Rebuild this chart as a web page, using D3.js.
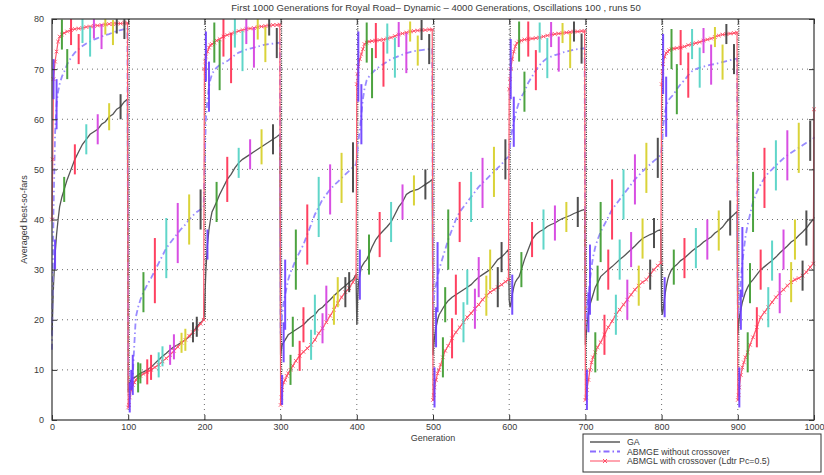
<!DOCTYPE html>
<html>
<head>
<meta charset="utf-8">
<script src="https://cdn.jsdelivr.net/npm/d3@7/dist/d3.min.js"></script>
<style>
  body { margin: 0; background: #fff; }
  svg { display: block; font-family: "Liberation Sans", Arial, sans-serif; }
</style>
</head>
<body>
<svg id="chart" width="824" height="475"></svg>
<script>
// Generation offsets (within each 100-generation oscillation period) at which values are recorded
const offsets = [0,1,2,4,6,8,10,13,16,20,25,30,35,40,45,50,55,60,65,70,75,80,85,90,95,99];
const periodLength = 100;

// GA — averaged best-so-far, one row per period
const gaValues = [
  [17,22,27,33,37,40,42.5,44.5,46,48,50,52,53.5,55,56,57,57.5,58,59,59.5,60.5,61,62,62.5,63.5,64],
  [5.5,6.5,7.5,8,8.3,8.5,8.6,9,9.3,9.6,10,10.5,11.3,12,12.7,13.3,14,14.6,15,15.5,16,16.6,17.5,18.6,19.4,20],
  [21,26,30,35,38,40,41.5,42.5,43.5,45,46.5,48,49,50.3,51.3,52,52.5,53,53.5,54,54.5,55,55.5,56,56.5,57],
  [13,14,15,15.5,16,16.5,17,17.3,17.6,18,18.5,19,19.8,20.5,21,22,22.5,23.3,24,24.8,25.5,26.2,26.8,27.5,28,29],
  [19,24,27,29,30.5,31,31.5,32,33,34.5,36,37,37.8,38.6,39.5,41,42.5,43.5,45,45.5,45.8,46,46.5,47,47.5,48],
  [13,15,16.5,18.5,20,21,21.5,22.3,23,23.8,24.5,25,25.5,26,26.5,27,27.8,28.5,29,29.5,30,31,32,32.5,33.3,34],
  [24,22.5,23,25,26.5,27.5,28,28.6,30,32,34,36,37,37.6,38,38.6,39,39.3,39.8,40.2,40.5,40.8,41.2,41.5,41.8,42],
  [15,17,19,21.5,23,24,25,26.5,27.3,28.6,29.3,30,30.6,31.3,32,32.6,33.3,34,34.7,35.5,36.2,36.6,37,37.3,37.8,38],
  [22,21,22,24.5,26.5,28,29,30,30.5,31,31.8,32.3,33,33.7,34.3,34.8,35.5,36,36.5,37.3,37.8,38.5,39.5,40.3,41,41.6],
  [17,19,20.5,22,23.5,24.5,25.5,26.5,27.3,28,29,30,30.6,31.2,31.8,32.5,33.3,34,34.7,35.5,36,36.8,37.5,38.3,39.3,40]
];

// ABMGE without crossover
const abmgeValues = [
  [14,28,42,57,63,65.5,67,68.5,69.5,71,72.3,73.3,74,74.6,75.1,75.5,75.9,76.2,76.5,76.8,77,77.3,77.6,77.8,78,78.2],
  [11,8,6.5,6,9,15,20.5,22.5,24,25.5,27,28.3,29.8,31.3,32.8,34.3,35.3,36.3,37.3,38.2,39,40,40.8,41.5,42,42.5],
  [48,55,60,64,66.5,68,69,69.8,70.3,70.8,71.2,71.6,72.2,72.8,73.3,73.6,73.9,74.1,74.3,74.5,74.7,74.9,75,75.1,75.2,75.3],
  [17,19,21,23.5,25,26.5,28,29.5,30.5,32,33.5,35,37,39,41,42.5,44,45,46,46.8,47.5,48.3,49,49.7,50.4,51],
  [52,54,55.5,58,61,64,66,67.8,68.5,69.2,70,70.5,71,71.5,72,72.3,72.6,72.9,73.2,73.4,73.6,73.7,73.8,73.9,74,74.1],
  [22,24,25.5,27,28.5,30,31,32.5,34,36,38,40,41.5,42.5,43.5,44.5,45.5,46.5,47.3,48,48.8,49.5,50.3,51,52,52.5],
  [53,54.5,56,58,59.5,60.8,62,63.5,64.5,65.5,67.3,68.5,69.8,70.8,71.6,72.2,72.5,72.8,73,73.3,73.5,73.7,73.9,74,74.1,74.2],
  [18,20,22,25,28,30.5,32.5,34.5,36,37.5,39,40.5,42,43,44,45,46,47,48,48.8,49.6,50.3,51,51.7,52.3,52.9],
  [54,56,58.5,61,62.5,63.5,64,64.5,65,66,67,67.8,68.8,69.6,70,70.3,70.5,70.7,70.9,71,71.2,71.4,71.6,71.8,72,72.1],
  [20,22,24,28,31.5,34,36.5,39,41,43.5,45.5,47,48.3,49.3,50,50.8,51.5,52.2,52.8,53.3,53.8,54.3,54.8,55.3,55.7,56]
];

// ABMGL with crossover
const abmglValues = [
  [40,52,68,71.5,73.5,75.5,76.5,76.9,77.2,77.5,77.8,78,78.1,78.2,78.4,78.5,78.6,78.7,78.8,78.9,79,79,79.1,79.1,79.2,79.2],
  [2.5,3,4.5,6,7,7.5,8,8.5,8.8,9.2,9.6,10,10.5,11,11.7,12.3,13,13.8,14.6,15.4,16,16.8,17.5,18.3,19.2,20],
  [70,71.5,72.5,73.5,74.3,74.8,75,75.3,75.7,76,76.5,76.8,77.1,77.3,77.6,77.8,78,78.1,78.2,78.4,78.5,78.6,78.7,78.8,78.8,78.9],
  [3,4.5,6,7.5,8,8.8,9.3,10,10.8,11.8,12.8,13.6,14.3,15,16,17.3,18.3,19.5,20.8,22,23.3,24.5,25.5,26.3,27.5,28.5],
  [67,69,70.5,72,73,74,75,75.3,75.5,75.6,75.7,75.8,75.9,76.1,76.3,76.6,76.9,77.1,77.3,77.5,77.6,77.7,77.8,77.8,77.9,77.9],
  [4,5,6.5,8,9.3,10,11,12.5,13.8,14.8,16.3,17.5,18.5,19.5,20.5,21.3,22.2,23,24,24.8,25.5,26,26.5,27,27.6,28],
  [66,68,70,72,73.5,74.5,75.2,75.5,75.7,75.9,76,76.1,76.2,76.3,76.5,76.7,76.9,77,77.1,77.2,77.3,77.4,77.5,77.5,77.6,77.6],
  [4,4.5,6,8,10,11.5,12.5,13.5,14.5,15.5,17,18.5,19.7,21,22,23,24,25,26,26.8,27.5,28,29,30,30.8,31.3],
  [67,69.5,71,72.5,73.2,73.5,73.8,74,74.1,74.2,74.3,74.5,74.8,75,75.2,75.4,75.7,75.9,76.1,76.4,76.7,76.9,77,77.1,77.2,77.3],
  [4,5,6.5,9,10.5,11.5,12.5,13.5,15,16.5,18.5,20.5,21.5,22.5,23.5,24.5,25.3,26,26.8,27.5,28,28.3,28.8,29.5,30.5,31.2]
];

// Values at generation 1000 (first generation after the last period)
const gaFinal = 40.5;
const abmgeFinal = 56.5;
const abmglFinal = 62;

// Error bars: offsets inside each period, and half-lengths per period
const gaErrOffsets = [4,16,30,45,60,75,90];
const abmgeErrOffsets = [6,20,35,50,65,80,95];
const abmglErrOffsets = [2,13,25,40,55,70,85];

const gaErr = [
  [3,2.5,3,3,3,2.7,2.5],[2,2,2.5,2,2.5,2.2,2],[3,4,4.5,3,3,3.5,3],[4,3,3.5,4,3.5,3,2],[5,4,4.5,4,3.5,3,3],
  [4,3.5,4,3.5,4,4,3],[4,3.5,3.5,4,3.5,3,3],[4,3.5,4,4,3.5,4,3],[4,3.5,4,4,4,4,3.5],[4,4,4,4,4,4,3.5]
];
const abmgeErr = [
  [5,3,3,3,2.5,2.5,2],[4,4,6.5,6,6,5,4],[5,5,5,4,4,3.5,3],[7,6,6,6,5,5,5],[6,5,4.5,4,4,3,3],
  [7,6,6,5,5,5,4],[5,4,4,4,3.5,3.5,3],[7,6,6,5,5,5,4],[6,5,4.5,4,4,3.5,3],[7,6,6,5,5,5,4]
];
const abmglErr = [
  [4,3,3,3,2.5,2,2],[3,3,2.5,2.5,2,2,2],[5,4,4,3,3,2.5,2],[3,3,3,3,3,3,3],[7,4,3.5,3,2.5,2,2],
  [4,4,4,4,4,4,4],[6,4,3.5,3,2.5,2,2],[4,4,4,4,4,4,3],[6,4,3.5,3,2.5,2,2],[4,4,4,4,4,4,3]
];

// Error bar colour cycle
const errColors = ["#6a3cff","#3a9a2c","#ff2d50","#4fd2c4","#d43ce0","#d6cf24","#3c3c3c"];

const xTicks = [0,100,200,300,400,500,600,700,800,900,1000];
const yTicks = [0,10,20,30,40,50,60,70,80];
const periodShifts = [100,200,300,400,500,600,700,800,900];

const titleText = "First 1000 Generations for Royal Road\u2013 Dynamic \u2013 4000 Generations, Oscillations 100 , runs 50";
const xLabel = "Generation";
const yLabel = "Averaged best-so-fars";
const legendLabels = ["GA", "ABMGE without crossover", "ABMGL with crossover (Ldtr Pc=0.5)"];

// ---------- build series ----------
function buildSeries(rows, finalValue) {
  const pts = [];
  rows.forEach((row, p) => {
    row.forEach((v, i) => pts.push({ gen: p * periodLength + offsets[i], value: v }));
  });
  pts.push({ gen: rows.length * periodLength, value: finalValue });
  return pts;
}
function buildErr(rows, errOffs, errRows) {
  const bars = [];
  rows.forEach((row, p) => {
    errOffs.forEach((o, k) => {
      const idx = offsets.indexOf(o);
      bars.push({ gen: p * periodLength + o, value: row[idx], err: errRows[p][k], color: errColors[k % errColors.length] });
    });
  });
  return bars;
}
const ga = buildSeries(gaValues, gaFinal);
const abmge = buildSeries(abmgeValues, abmgeFinal);
const abmgl = buildSeries(abmglValues, abmglFinal);

const svg = d3.select("#chart");
const plot = { left: 52, right: 814, top: 19, bottom: 420 };
const x = d3.scaleLinear().domain([0, 1000]).range([plot.left, plot.right]);
const y = d3.scaleLinear().domain([0, 80]).range([plot.bottom, plot.top]);

const textColor = "#3a3a3a";

// Title
svg.append("text").attr("x", 436).attr("y", 11).attr("text-anchor", "middle")
  .attr("font-size", 9.6).attr("fill", textColor).text(titleText);

// Grid (dotted)
const grid = svg.append("g").attr("stroke", "#333").attr("stroke-width", 0.9)
  .attr("stroke-dasharray", "1,4").attr("opacity", 0.8);
yTicks.filter(t => t > 0 && t < 80).forEach(t => {
  grid.append("line").attr("x1", plot.left).attr("x2", plot.right).attr("y1", y(t)).attr("y2", y(t));
});
xTicks.filter(t => t > 0 && t < 1000).forEach(t => {
  grid.append("line").attr("y1", plot.top).attr("y2", plot.bottom).attr("x1", x(t)).attr("x2", x(t));
});

// Dense markers at each environment shift, down to the lowest series value there
const valueAt = (series, g) => series.find(d => d.gen === g).value;
periodShifts.forEach(b => {
  const lo = d3.min([ga, abmge, abmgl], s => Math.min(valueAt(s, b - 1), valueAt(s, b)));
  svg.append("line").attr("x1", x(b) + 1).attr("x2", x(b) + 1)
    .attr("y1", y(80)).attr("y2", y(lo))
    .attr("stroke", "#2a2a2a").attr("stroke-width", 1.1).attr("stroke-dasharray", "1,1.3");
});

const line = d3.line().x(d => x(d.gen)).y(d => y(d.value));

// GA
svg.append("path").datum(ga).attr("d", line).attr("fill", "none")
  .attr("stroke", "#555").attr("stroke-width", 1.3);

// ABMGE (dash-dot)
svg.append("path").datum(abmge).attr("d", line).attr("fill", "none")
  .attr("stroke", "#9a8cff").attr("stroke-width", 1.8).attr("stroke-dasharray", "6,3,1.5,3");

// ABMGL with x markers
svg.append("path").datum(abmgl).attr("d", line).attr("fill", "none")
  .attr("stroke", "#ff5a70").attr("stroke-width", 1.2);
const mk = svg.append("g").attr("stroke", "#ff4d66").attr("stroke-width", 0.9);
abmgl.forEach(d => {
  const cx = x(d.gen), cy = y(d.value), s = 1.8;
  mk.append("path").attr("d", `M${cx - s},${cy - s}L${cx + s},${cy + s}M${cx - s},${cy + s}L${cx + s},${cy - s}`);
});

// Error bars
const bars = [].concat(
  buildErr(gaValues, gaErrOffsets, gaErr),
  buildErr(abmgeValues, abmgeErrOffsets, abmgeErr),
  buildErr(abmglValues, abmglErrOffsets, abmglErr)
);
svg.append("g").selectAll("line").data(bars).join("line")
  .attr("x1", d => x(d.gen)).attr("x2", d => x(d.gen))
  .attr("y1", d => y(Math.min(80, d.value + d.err))).attr("y2", d => y(Math.max(0, d.value - d.err)))
  .attr("stroke", d => d.color).attr("stroke-width", 2).attr("opacity", 0.9);

// Axes box
svg.append("rect").attr("x", plot.left).attr("y", plot.top)
  .attr("width", plot.right - plot.left).attr("height", plot.bottom - plot.top)
  .attr("fill", "none").attr("stroke", "#333").attr("stroke-width", 1.2);

// Inward ticks on all four sides
const fmt = d3.format("d");
const axisBottom = d3.axisBottom(x).tickValues(xTicks).tickFormat(fmt).tickSizeInner(-5).tickSizeOuter(0).tickPadding(8);
const gx = svg.append("g").attr("transform", `translate(0,${plot.bottom})`).call(axisBottom);
const axisTop = d3.axisTop(x).tickValues(xTicks).tickSizeInner(-5).tickSizeOuter(0).tickFormat("");
const gxt = svg.append("g").attr("transform", `translate(0,${plot.top})`).call(axisTop);
const axisLeft = d3.axisLeft(y).tickValues(yTicks).tickFormat(fmt).tickSizeInner(-5).tickSizeOuter(0).tickPadding(8);
const gy = svg.append("g").attr("transform", `translate(${plot.left},0)`).call(axisLeft);
const axisRight = d3.axisRight(y).tickValues(yTicks).tickSizeInner(-5).tickSizeOuter(0).tickFormat("");
const gyr = svg.append("g").attr("transform", `translate(${plot.right},0)`).call(axisRight);
[gx, gxt, gy, gyr].forEach(g => {
  g.select(".domain").remove();
  g.selectAll("line").attr("stroke", "#333");
  g.selectAll("text").attr("fill", textColor).attr("font-size", 9)
    .attr("font-family", "\"Liberation Sans\", Arial, sans-serif");
});
gx.selectAll("text").attr("dy", "0.2em");

// Axis labels
svg.append("text").attr("x", (plot.left + plot.right) / 2).attr("y", 441).attr("text-anchor", "middle")
  .attr("font-size", 9).attr("fill", textColor).text(xLabel);
svg.append("text").attr("transform", `translate(27,${(plot.top + plot.bottom) / 2}) rotate(-90)`)
  .attr("text-anchor", "middle").attr("font-size", 9).attr("fill", textColor).text(yLabel);

// Legend
const lg = svg.append("g");
lg.append("rect").attr("x", 583).attr("y", 434).attr("width", 238).attr("height", 38)
  .attr("fill", "#fff").attr("stroke", "#333").attr("stroke-width", 1);
const rowY = [442, 451.5, 461];
lg.append("line").attr("x1", 590).attr("x2", 620).attr("y1", rowY[0]).attr("y2", rowY[0])
  .attr("stroke", "#333").attr("stroke-width", 1.2);
lg.append("line").attr("x1", 590).attr("x2", 620).attr("y1", rowY[1]).attr("y2", rowY[1])
  .attr("stroke", "#8a6cff").attr("stroke-width", 2).attr("stroke-dasharray", "6,3,1.5,3");
lg.append("line").attr("x1", 590).attr("x2", 620).attr("y1", rowY[2]).attr("y2", rowY[2])
  .attr("stroke", "#ff5a70").attr("stroke-width", 1.1);
lg.append("path").attr("d", `M603,${rowY[2] - 2}L607,${rowY[2] + 2}M603,${rowY[2] + 2}L607,${rowY[2] - 2}`)
  .attr("stroke", "#ff4d66").attr("stroke-width", 1);
legendLabels.forEach((t, i) => {
  lg.append("text").attr("x", 627).attr("y", rowY[i] + 3).attr("font-size", 8.8)
    .attr("fill", textColor).text(t);
});
</script>
</body>
</html>
